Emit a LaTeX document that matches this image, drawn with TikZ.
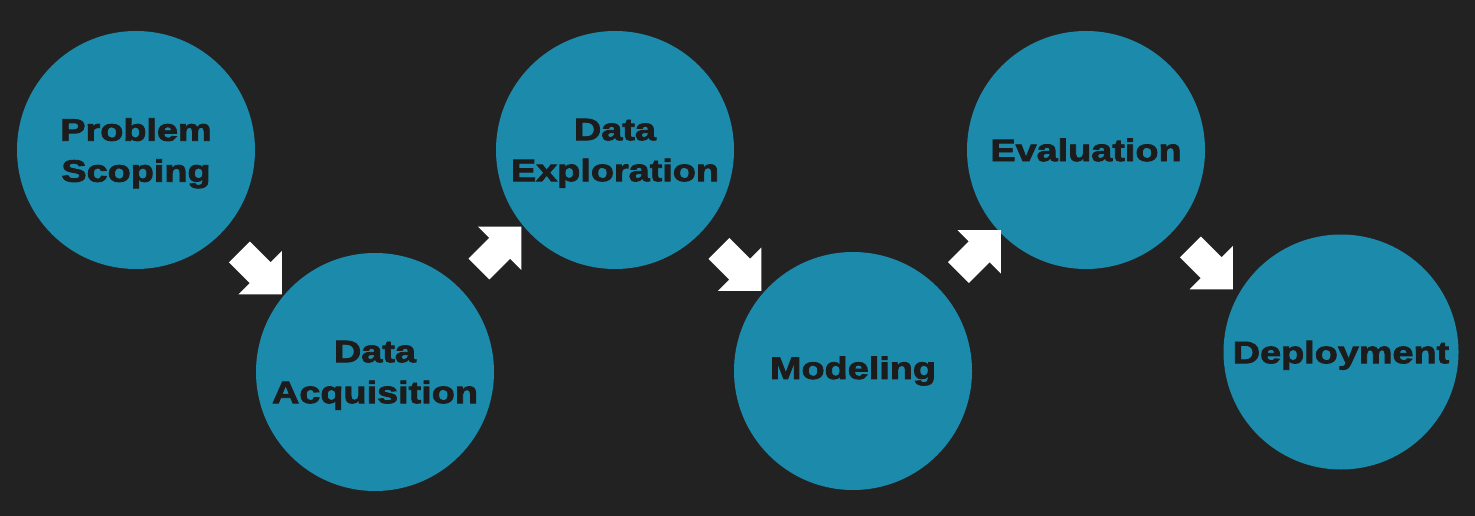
\documentclass[tikz,border=0pt]{standalone}
\usepackage{fontspec}
\setmainfont{Liberation Sans}[BoldFeatures={FakeStretch=1.22,FakeBold=2.6}]
\usetikzlibrary{shapes.arrows,calc}
\definecolor{bgc}{HTML}{222222}
\definecolor{circ}{HTML}{1B8AAB}
\definecolor{txt}{HTML}{1C1C1C}
\begin{document}
\begin{tikzpicture}[x=1pt,y=-1pt,
  stage/.style={circle,fill=circ,minimum size=238pt,inner sep=0pt,align=center,
    text=txt,font=\fontsize{31}{41}\selectfont\bfseries},
  lowtext/.style={text depth=0pt},
  flowarrow/.style={single arrow,fill=white,draw=none,minimum height=60pt,
    inner xsep=0pt,inner ysep=14.5pt,single arrow head extend=16pt,
    single arrow tip angle=90,single arrow head indent=0pt}]
\fill[bgc] (0,0) rectangle (1475,516);
\node[stage,lowtext] (ps) at (136,150) {Problem\\Scoping};
\node[stage,lowtext] (da) at (375,372) {Data\\Acquisition};
\node[stage,lowtext] (de) at (615,150) {Data\\Exploration};
\node[stage] (mo) at (853,371) {Modeling};
\node[stage] (ev) at (1086,150) {Evaluation};
\node[stage,lowtext,minimum size=235pt] (dp) at (1341,352) {Deployment};
\node[flowarrow,rotate=-45] (a1) at ($(ps)!0.5!(da)+(0,7)$) {};
\node[flowarrow,rotate=45] (a2) at ($(da)!0.5!(de)+(0,-8)$) {};
\node[flowarrow,rotate=-45] (a3) at ($(de)!0.5!(mo)+(1,4)$) {};
\node[flowarrow,rotate=45] (a4) at ($(mo)!0.5!(ev)+(5,-4)$) {};
\node[flowarrow,rotate=-45] (a5) at ($(ev)!0.5!(dp)+(-7,12)$) {};
\end{tikzpicture}
\end{document}
